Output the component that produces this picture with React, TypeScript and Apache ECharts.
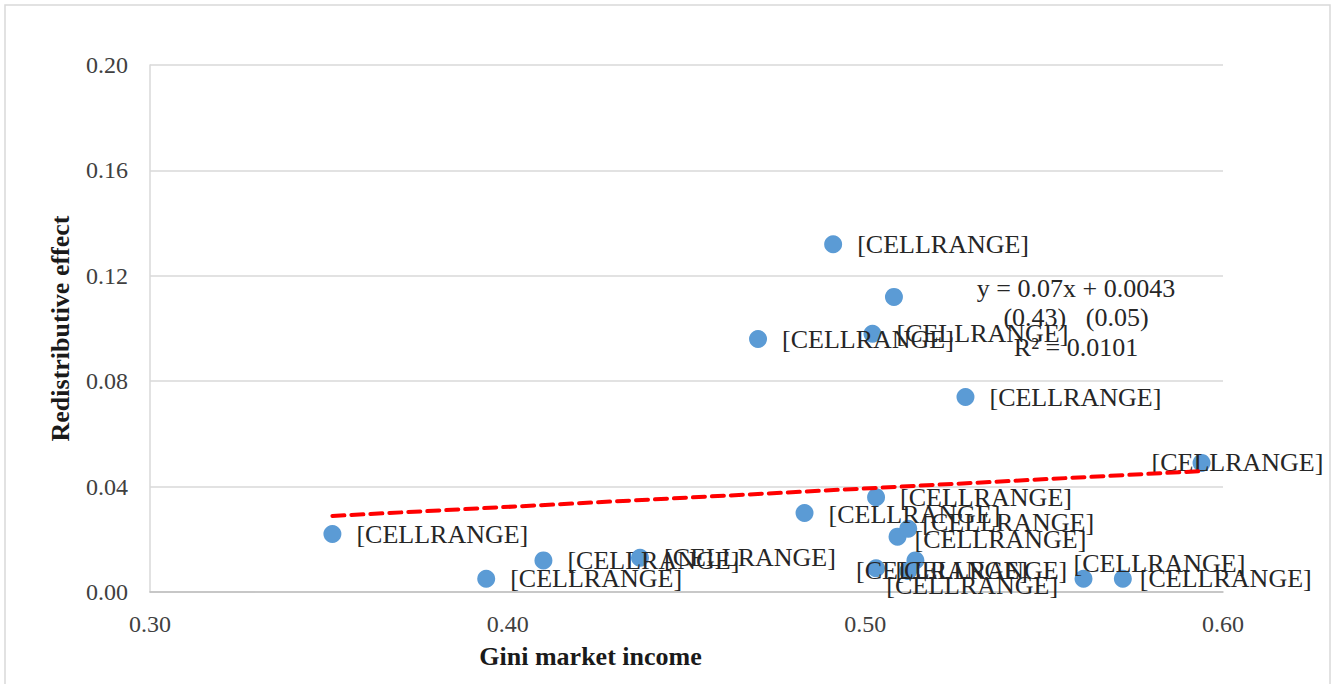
import React, { useEffect, useRef } from "react";
import * as echarts from "echarts";

const giniMarket = [0.351, 0.394, 0.410, 0.437, 0.470, 0.483, 0.491, 0.502, 0.503, 0.508, 0.528, 0.594, 0.509, 0.512, 0.514, 0.503, 0.512, 0.561, 0.572];
const redistEffect = [0.022, 0.005, 0.012, 0.013, 0.096, 0.030, 0.132, 0.098, 0.036, 0.112, 0.074, 0.049, 0.021, 0.024, 0.012, 0.009, 0.008, 0.005, 0.005];
const pointLabels = ["[CELLRANGE]", "[CELLRANGE]", "[CELLRANGE]", "[CELLRANGE]", "[CELLRANGE]", "[CELLRANGE]", "[CELLRANGE]", "[CELLRANGE]", "[CELLRANGE]", "", "[CELLRANGE]", "[CELLRANGE]", "[CELLRANGE]", "[CELLRANGE]", "[CELLRANGE]", "[CELLRANGE]", "[CELLRANGE]", "[CELLRANGE]", "[CELLRANGE]"];
// label nudges (style only)
const labelNudge: [number, number][] = [[0, 0], [0, 0], [0, 0], [0, 0], [0, 0], [0, 2], [0, 0], [0, 0], [0, 0], [0, 0], [0, 0], [-74, 0], [-7, 3], [-10, -6], [-44, 10], [-44, 2], [-46, 15], [-34, -15], [-7, 0]];
const trendSlope = 0.07;
const trendIntercept = 0.0043;
const xTicks = { min: 0.3, max: 0.6, step: 0.1 };
const yTicks = { min: 0, max: 0.2, step: 0.04 };
const eqLines = ["y = 0.07x + 0.0043", "(0.43)   (0.05)", "R\u00b2 = 0.0101"];

const FONT = "Liberation Serif";

export default function App() {
  const ref = useRef<HTMLDivElement>(null);
  useEffect(() => {
    if (!ref.current) return;
    const chart = echarts.init(ref.current, undefined, { renderer: "svg" });
    const xMin = Math.min(...giniMarket);
    const xMax = Math.max(...giniMarket);
    const scatterData = giniMarket.map((x, i) => ({
      value: [x, redistEffect[i]],
      name: pointLabels[i],
      label: {
        show: pointLabels[i] !== "",
        offset: labelNudge[i],
      },
    }));
    chart.setOption({
      animation: false,
      backgroundColor: "#ffffff",
      grid: { left: 150, right: 113, top: 65, bottom: 92, containLabel: false },
      xAxis: {
        type: "value",
        min: xTicks.min,
        max: xTicks.max,
        interval: xTicks.step,
        name: "Gini market income",
        nameLocation: "middle",
        nameGap: 51,
        nameTextStyle: { fontFamily: FONT, fontSize: 26, fontWeight: "bold", color: "#1a1a1a", padding: [0, 192, 0, 0] },
        axisLine: { show: true, lineStyle: { color: "#bfbfbf", width: 1.5 } },
        axisTick: { show: false },
        splitLine: { show: false },
        axisLabel: { fontFamily: FONT, fontSize: 24, color: "#404040", margin: 20, formatter: (v: number) => v.toFixed(2) },
      },
      yAxis: {
        type: "value",
        min: yTicks.min,
        max: yTicks.max,
        interval: yTicks.step,
        name: "Redistributive effect",
        nameLocation: "middle",
        nameGap: 77,
        nameRotate: 90,
        nameTextStyle: { fontFamily: FONT, fontSize: 26, fontWeight: "bold", color: "#1a1a1a" },
        axisLine: { show: true, lineStyle: { color: "#d9d9d9", width: 1.5 } },
        axisTick: { show: false },
        splitLine: { show: true, lineStyle: { color: "#d9d9d9", width: 1.5 } },
        axisLabel: { fontFamily: FONT, fontSize: 24, color: "#404040", margin: 22, formatter: (v: number) => v.toFixed(2) },
      },
      series: [
        {
          type: "scatter",
          data: scatterData,
          symbolSize: 18,
          itemStyle: { color: "#5b9bd5", opacity: 1 },
          label: {
            show: true,
            position: "right",
            distance: 15,
            formatter: (p: any) => p.name,
            fontFamily: FONT,
            fontSize: 26,
            color: "#262626",
          },
          z: 3,
        },
        {
          type: "line",
          data: [
            [xMin, trendSlope * xMin + trendIntercept],
            [xMax, trendSlope * xMax + trendIntercept],
          ],
          symbol: "none",
          lineStyle: { color: "#ff0000", width: 4, type: [12, 7], cap: "round" },
          z: 4,
          silent: true,
        },
      ],
      graphic: [
        {
          type: "rect",
          shape: { x: 5, y: 5, width: 1325, height: 690 },
          style: { fill: "none", stroke: "#d9d9d9", lineWidth: 1.5 },
          silent: true,
        },
        ...eqLines.map((t, i) => ({
          type: "text",
          x: 1076,
          y: 288 + i * 29.5,
          style: {
            text: t,
            fontFamily: FONT,
            fontSize: 26,
            fill: "#262626",
            align: "center",
            verticalAlign: "middle",
          },
          z: 10,
        })),
      ],
    });
    return () => chart.dispose();
  }, []);
  return (
    <div
      ref={ref}
      style={{ position: "absolute", left: 0, top: 0, width: 1336, height: 684 }}
    />
  );
}
